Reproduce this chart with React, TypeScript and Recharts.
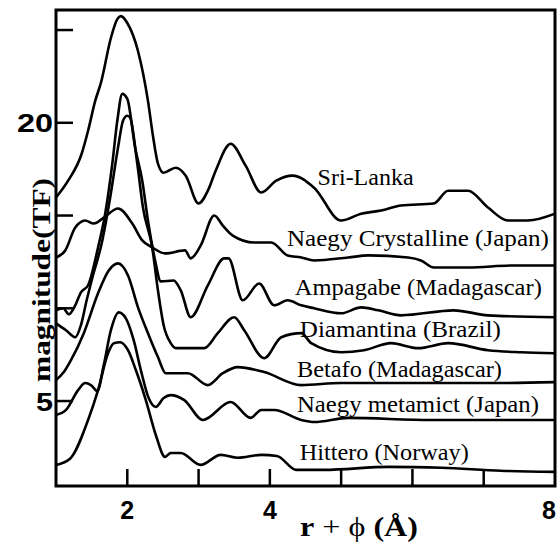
import React from 'react';
import { LineChart, Line, XAxis, YAxis, ReferenceDot, ReferenceArea } from 'recharts';

// ---- data (x = r + phi in Å, y = magnitude of TF, offset stacked) ----
const sriLankaX = [1.0, 1.17, 1.36, 1.45, 1.55, 1.63, 1.77, 1.86, 1.91, 2.0, 2.15, 2.29, 2.36, 2.43, 2.51, 2.68, 2.82, 3.0, 3.13, 3.24, 3.45, 3.66, 3.88, 4.09, 4.32, 4.62, 5.0, 5.28, 5.56, 5.84, 6.3, 6.5, 6.78, 7.06, 7.34, 7.62, 8.0];
const sriLankaY = [15.97, 16.88, 18.33, 19.57, 21.18, 22.15, 24.57, 25.59, 25.75, 25.38, 23.87, 21.18, 19.3, 17.8, 17.31, 17.58, 17.15, 15.65, 16.34, 17.42, 18.87, 17.69, 16.24, 16.88, 17.15, 16.5, 14.73, 15.1, 15.27, 15.54, 15.65, 16.34, 16.34, 15.43, 14.73, 14.73, 15.1];

const naegyCrystX = [1.0, 1.13, 1.27, 1.41, 1.53, 1.67, 1.87, 2.07, 2.21, 2.35, 2.53, 2.81, 2.89, 3.03, 3.22, 3.34, 3.48, 3.78, 4.02, 4.25, 4.44, 4.62, 5.1, 5.38, 5.94, 6.12, 6.3, 6.78, 7.42, 8.0];
const naegyCrystY = [12.74, 13.12, 14.35, 14.73, 14.57, 14.89, 15.38, 14.57, 13.66, 13.28, 12.96, 13.12, 12.69, 13.39, 15.0, 14.46, 13.92, 13.55, 13.55, 12.85, 12.74, 12.58, 12.74, 12.85, 12.74, 12.58, 12.2, 12.2, 12.31, 12.31];

const ampagabeX = [1.0, 1.1, 1.18, 1.27, 1.35, 1.45, 1.59, 1.69, 1.79, 1.86, 1.93, 2.0, 2.11, 2.21, 2.29, 2.39, 2.47, 2.65, 2.75, 2.89, 3.13, 3.36, 3.42, 3.62, 3.85, 4.06, 4.25, 4.44, 4.62, 5.0, 5.28, 5.52, 5.84, 6.58, 7.06, 8.0];
const ampagabeY = [9.89, 10.0, 9.68, 10.16, 10.86, 11.24, 13.28, 15.1, 17.8, 20.11, 21.56, 21.29, 18.66, 16.88, 14.73, 12.58, 11.45, 11.5, 10.97, 9.52, 11.24, 12.69, 12.69, 10.43, 11.34, 10.16, 10.43, 10.16, 10.0, 9.73, 10.05, 9.89, 9.62, 9.89, 9.62, 9.52];

const diamantinaX = [1.0, 1.14, 1.27, 1.35, 1.43, 1.5, 1.65, 1.76, 1.87, 1.94, 2.0, 2.04, 2.14, 2.22, 2.35, 2.43, 2.51, 2.61, 2.68, 3.08, 3.27, 3.5, 3.64, 3.92, 4.16, 4.44, 4.58, 5.0, 5.32, 5.7, 6.08, 6.5, 7.06, 7.52, 8.0];
const diamantinaY = [9.19, 8.82, 8.44, 9.09, 10.43, 11.5, 13.66, 15.97, 18.66, 20.11, 20.38, 20.27, 17.8, 15.43, 13.28, 10.97, 9.09, 8.12, 7.85, 7.85, 8.66, 9.52, 8.82, 7.31, 8.44, 8.66, 8.12, 7.63, 7.74, 8.12, 7.85, 8.12, 7.74, 7.63, 7.58];

const betafoX = [1.0, 1.11, 1.21, 1.39, 1.59, 1.74, 1.87, 2.01, 2.15, 2.29, 2.43, 2.54, 2.85, 3.13, 3.34, 3.55, 3.92, 4.44, 5.0, 6.12, 7.24, 8.0];
const betafoY = [6.13, 6.56, 7.2, 8.66, 10.81, 12.04, 12.42, 11.77, 10.05, 8.66, 7.37, 6.5, 6.5, 5.86, 6.5, 6.83, 6.56, 5.86, 5.97, 5.97, 5.97, 6.02];

const naegyMetaX = [1.0, 1.14, 1.31, 1.41, 1.49, 1.58, 1.67, 1.77, 1.88, 1.98, 2.09, 2.19, 2.3, 2.4, 2.51, 2.61, 2.8, 3.06, 3.45, 3.73, 3.88, 4.06, 4.44, 4.62, 5.1, 6.26, 8.0];
const naegyMetaY = [4.25, 4.52, 5.59, 5.97, 5.86, 5.54, 6.94, 8.82, 9.78, 9.46, 8.28, 6.67, 5.16, 4.68, 5.16, 5.32, 5.05, 3.98, 4.95, 4.09, 4.52, 4.52, 3.98, 3.87, 4.09, 3.98, 3.98];

const hitteroX = [1.0, 1.2, 1.45, 1.59, 1.73, 1.81, 1.9, 2.01, 2.12, 2.26, 2.4, 2.53, 2.61, 2.75, 3.03, 3.31, 3.55, 3.88, 4.1, 4.37, 4.76, 5.67, 6.41, 7.24, 8.0];
const hitteroY = [1.55, 1.9, 3.98, 5.59, 7.58, 8.12, 8.17, 7.74, 6.67, 5.05, 3.17, 1.99, 2.2, 2.2, 1.56, 2.1, 1.94, 2.1, 2.04, 1.29, 1.29, 1.45, 1.4, 1.24, 1.18];

const seriesNames = ['Sri-Lanka', 'Naegy Crystalline (Japan)', 'Ampagabe (Madagascar)', 'Diamantina (Brazil)', 'Betafo (Madagascar)', 'Naegy metamict (Japan)', 'Hittero (Norway)'];
const labelX = [4.67, 4.24, 4.35, 4.42, 4.38, 4.38, 4.42];
const labelY = [16.64, 13.36, 10.71, 8.45, 6.29, 4.41, 1.82];
const labelWidth = [96, 262, 247, 201, 205, 242, 169];

const xTicks = [2, 3, 4, 5, 6, 7, 8];
const xTickLabels: Record<number, string> = { 2: '2', 4: '4', 8: '8' };
const yTicks = [5, 10, 15, 20, 25];
const yTickLabels: Record<number, string> = { 5: '5', 20: '20' };

const X_MIN = 1;
const X_MAX = 8;
const Y_MIN = 0.42;
const Y_MAX = 26.08;

const seriesXs = [sriLankaX, naegyCrystX, ampagabeX, diamantinaX, betafoX, naegyMetaX, hitteroX];
const seriesYs = [sriLankaY, naegyCrystY, ampagabeY, diamantinaY, betafoY, naegyMetaY, hitteroY];
const seriesData = seriesXs.map((xs, i) => xs.map((x, j) => ({ x, y: seriesYs[i][j] })));

const SANS = "'Liberation Sans', Arial, Helvetica, sans-serif";
const SERIF = "'Liberation Serif', 'Times New Roman', Times, serif";

const YTick = (props: any) => {
  const { x, y, payload } = props;
  const lab = yTickLabels[payload.value];
  return (
    <g>
      <line x1={x} x2={x + 17} y1={y} y2={y} stroke="#000" strokeWidth={2.5} />
      {lab ? (
        <text
          x={x - 3}
          y={y + 9.5}
          textAnchor="end"
          style={{ fontFamily: SANS, fontWeight: 'bold', fontSize: 26 }}
          fill="#000"
          textLength={lab.length === 2 ? 36 : 17}
          lengthAdjust="spacingAndGlyphs"
        >
          {lab}
        </text>
      ) : null}
    </g>
  );
};

const XTick = (props: any) => {
  const { x, y, payload } = props;
  const lab = xTickLabels[payload.value];
  return (
    <g>
      {payload.value < X_MAX ? <line x1={x} x2={x} y1={y} y2={y - 17} stroke="#000" strokeWidth={2.5} /> : null}
      {lab ? (
        <text
          x={payload.value === X_MAX ? x - 6 : x}
          y={y + 33}
          textAnchor="middle"
          style={{ fontFamily: SANS, fontWeight: 'bold', fontSize: 25 }}
          fill="#000"
        >
          {lab}
        </text>
      ) : null}
    </g>
  );
};

const makeLabelShape = (i: number) => (p: any) => (
  <text
    x={p.cx}
    y={p.cy}
    style={{ fontFamily: SERIF, fontSize: 24 }}
    fill="#000"
    textLength={labelWidth[i]}
    lengthAdjust="spacingAndGlyphs"
  >
    {seriesNames[i]}
  </text>
);

export default function App() {
  return (
    <div style={{ position: 'absolute', left: 0, top: 0, width: 560, height: 544, background: '#fff' }}>
      <LineChart width={560} height={544} margin={{ top: 10, right: 5, left: 0, bottom: 0 }}>
        <XAxis
          type="number"
          dataKey="x"
          domain={[X_MIN, X_MAX]}
          ticks={xTicks}
          interval={0}
          allowDataOverflow
          axisLine={false}
          tickLine={false}
          tickSize={0}
          tickMargin={0}
          height={58}
          tick={<XTick />}
        />
        <YAxis
          type="number"
          domain={[Y_MIN, Y_MAX]}
          ticks={yTicks}
          interval={0}
          allowDataOverflow
          axisLine={false}
          tickLine={false}
          tickSize={0}
          tickMargin={0}
          width={56}
          tick={<YTick />}
        />
        {seriesData.map((d, i) => (
          <Line
            key={seriesNames[i]}
            data={d}
            dataKey="y"
            name={seriesNames[i]}
            type="monotone"
            stroke="#000"
            strokeWidth={2.6}
            strokeLinejoin="round"
            dot={false}
            isAnimationActive={false}
          />
        ))}
        {seriesNames.map((n, i) => (
          <ReferenceDot key={'lab' + n} x={labelX[i]} y={labelY[i]} r={0} shape={makeLabelShape(i)} />
        ))}
        <ReferenceArea x1={X_MIN} x2={X_MAX} y1={Y_MIN} y2={Y_MAX} fill="none" stroke="#000" strokeWidth={3} ifOverflow="visible" />
      </LineChart>
      <svg width={560} height={544} style={{ position: 'absolute', left: 0, top: 0, pointerEvents: 'none' }}>
        <text
          transform="translate(50,280) rotate(-90)"
          textAnchor="middle"
          style={{ fontFamily: SERIF, fontWeight: 'bold', fontSize: 26 }}
          textLength={204}
          lengthAdjust="spacingAndGlyphs"
          fill="#000"
        >
          magnitude(TF)
        </text>
        <text
          x={300}
          y={536}
          style={{ fontFamily: SERIF, fontWeight: 'bold', fontSize: 27 }}
          fill="#000"
          textLength={118}
          lengthAdjust="spacingAndGlyphs"
        >
          <tspan>r</tspan>
          <tspan style={{ fontWeight: 'normal' }}> + ϕ </tspan>
          <tspan>(Å)</tspan>
        </text>
      </svg>
    </div>
  );
}
